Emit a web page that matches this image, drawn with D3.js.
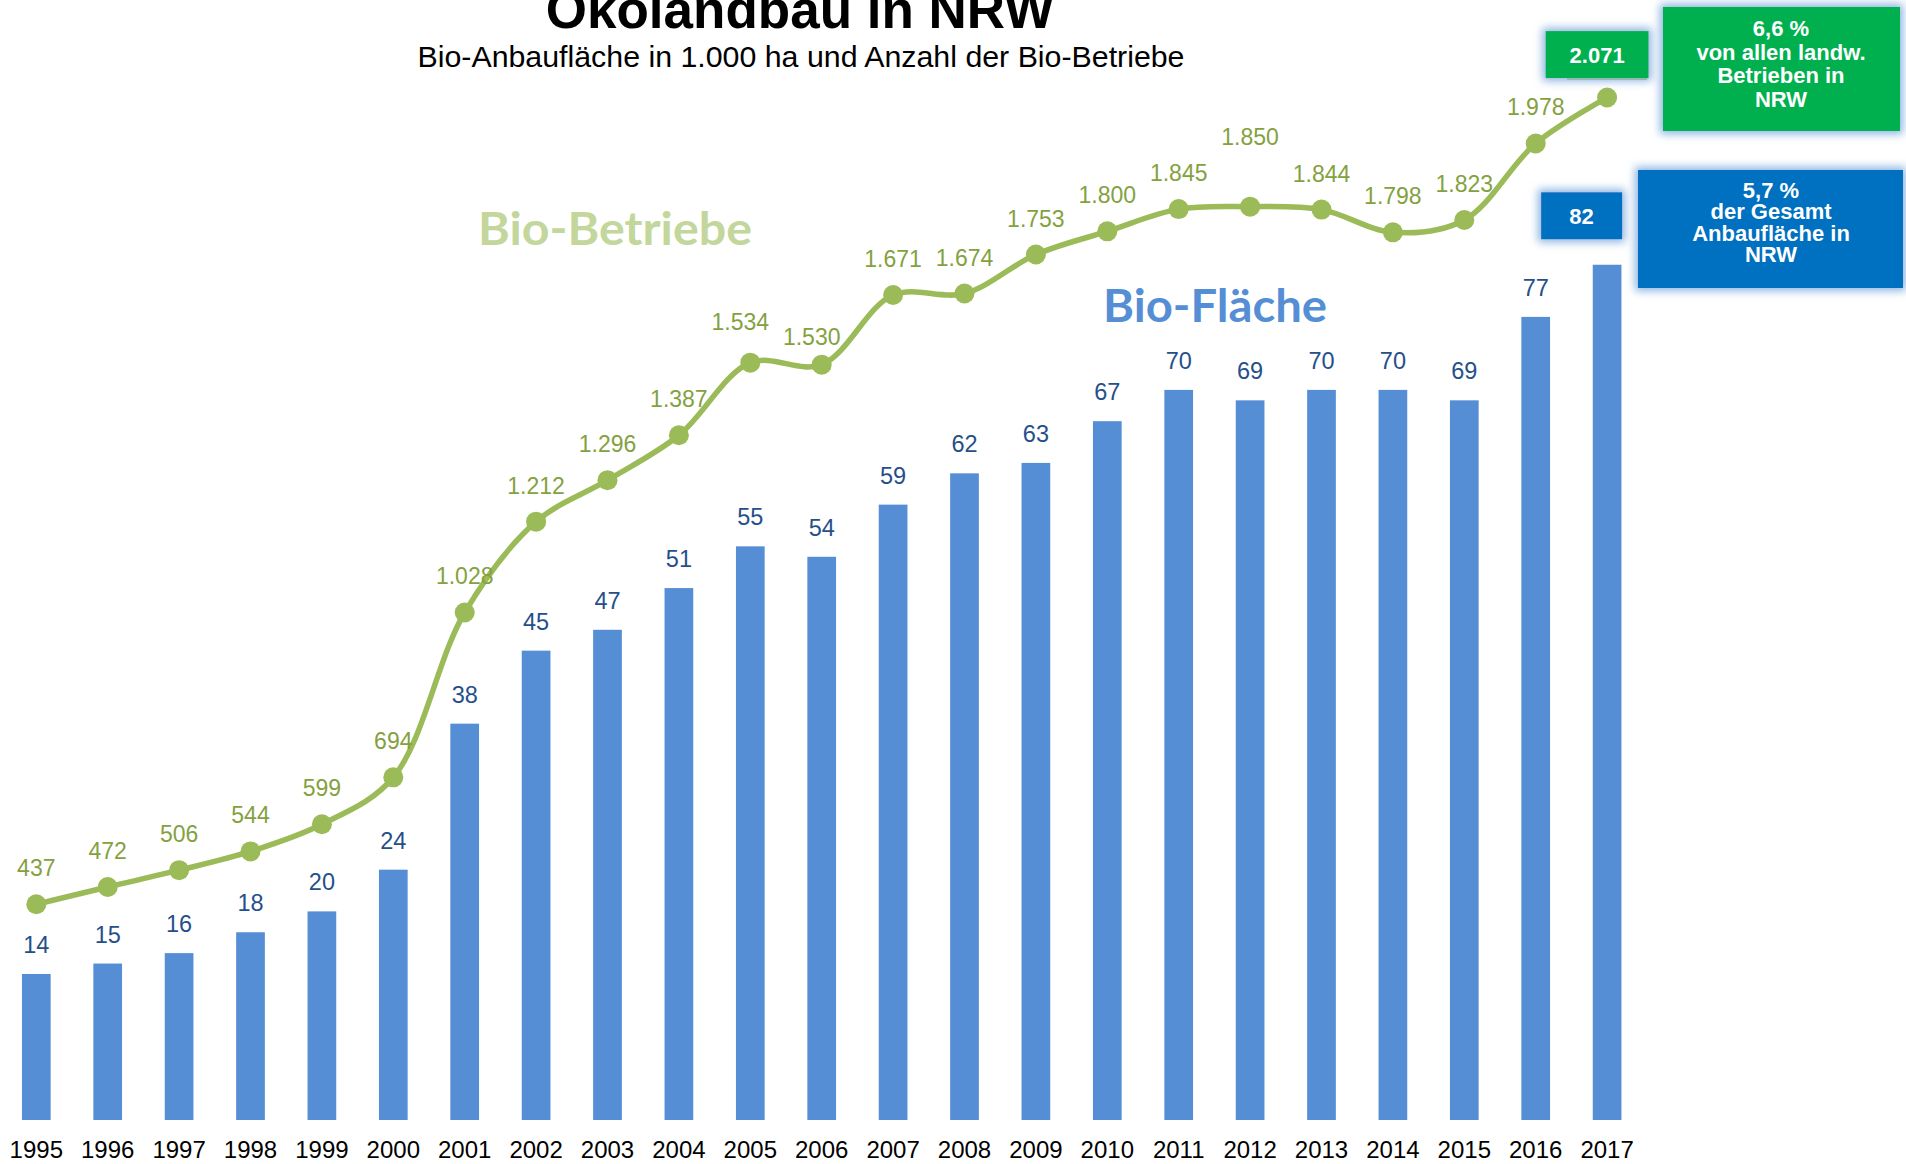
<!DOCTYPE html>
<html lang="de">
<head>
<meta charset="utf-8">
<title>Ökolandbau in NRW</title>
<script src="https://cdn.jsdelivr.net/npm/d3@7"></script>
<style>
  html, body { margin: 0; padding: 0; background: #ffffff; }
  svg { display: block; }
  text { font-family: "Liberation Sans", Arial, Helvetica, sans-serif; }
</style>
</head>
<body>
<svg id="chart" width="1906" height="1164"></svg>
<script>
// Jahre, Bio-Anbaufläche (1.000 ha) und Anzahl der Bio-Betriebe
const years = [1995, 1996, 1997, 1998, 1999, 2000, 2001, 2002, 2003, 2004, 2005, 2006,
               2007, 2008, 2009, 2010, 2011, 2012, 2013, 2014, 2015, 2016, 2017];
const areaValues = [14, 15, 16, 18, 20, 24, 38, 45, 47, 51, 55, 54,
                    59, 62, 63, 67, 70, 69, 70, 70, 69, 77, 82];
const farmValues = [437, 472, 506, 544, 599, 694, 1028, 1212, 1296, 1387, 1534, 1530,
                    1671, 1674, 1753, 1800, 1845, 1850, 1844, 1798, 1823, 1978, 2071];

const titleText = "Ökolandbau in NRW";
const subtitleText = "Bio-Anbaufläche in 1.000 ha und Anzahl der Bio-Betriebe";
const seriesNames = ["Bio-Betriebe", "Bio-Fläche"];
const farmShareLines = ["6,6 %", "von allen landw.", "Betrieben in", "NRW"];
const areaShareLines = ["5,7 %", "der Gesamt", "Anbaufläche in", "NRW"];

const data = years.map((y, i) => ({ year: y, area: areaValues[i], farms: farmValues[i] }));

const de = d3.formatLocale({ decimal: ",", thousands: ".", grouping: [3], currency: ["", " €"] });
const fmt = de.format(",d");

const svg = d3.select("#chart");
const baseY = 1120;

// Filter: hellblauer Schein um die Hinweisboxen
const defs = svg.append("defs");
const glow = defs.append("filter").attr("id", "glow")
  .attr("x", "-30%").attr("y", "-60%").attr("width", "160%").attr("height", "220%");
glow.append("feMorphology").attr("in", "SourceAlpha").attr("operator", "dilate").attr("radius", 3).attr("result", "d");
glow.append("feGaussianBlur").attr("in", "d").attr("stdDeviation", 4).attr("result", "b");
glow.append("feFlood").attr("flood-color", "#8DB4E2").attr("flood-opacity", 1);
glow.append("feComposite").attr("in2", "b").attr("operator", "in").attr("result", "g");
const gm = glow.append("feMerge");
gm.append("feMergeNode").attr("in", "g");
gm.append("feMergeNode").attr("in", "SourceGraphic");

// Skalen
const x = d3.scaleBand()
  .domain(years)
  .range([0.6, 1642.8])
  .paddingInner(0.598)
  .paddingOuter(0.299);
const cx = d => x(d) + x.bandwidth() / 2;

const yArea = d3.scaleLinear().domain([0, 100]).range([baseY, baseY - 1043]);
const yFarms = d3.scaleLinear().domain([0, 2100]).range([baseY, baseY - 2100 * 0.4937]);

// Titel (oben vom Rand angeschnitten)
svg.append("text")
  .attr("x", 800).attr("y", 28)
  .attr("text-anchor", "middle")
  .style("font-size", "53px").style("font-weight", "bold").attr("fill", "#000")
  .text(titleText);
svg.append("text")
  .attr("x", 801).attr("y", 67)
  .attr("text-anchor", "middle")
  .attr("textLength", 767).attr("lengthAdjust", "spacingAndGlyphs")
  .style("font-size", "30px").attr("fill", "#000")
  .text(subtitleText);

// Säulen: Bio-Fläche
svg.append("g").selectAll("rect")
  .data(data)
  .join("rect")
  .attr("x", d => x(d.year))
  .attr("y", d => yArea(d.area))
  .attr("width", x.bandwidth())
  .attr("height", d => baseY - yArea(d.area))
  .attr("fill", "#558ED5");

// Werte über den Säulen (letzter Wert in eigener Box)
const lastIdx = data.length - 1;
svg.append("g").selectAll("text")
  .data(data.slice(0, lastIdx))
  .join("text")
  .attr("x", d => cx(d.year))
  .attr("y", d => yArea(d.area) - 21)
  .attr("text-anchor", "middle")
  .style("font-size", "23.5px").attr("fill", "#264F8A")
  .text(d => fmt(d.area));

// Jahresachse
const xAxis = d3.axisBottom(x).tickSize(0).tickPadding(21);
const axisG = svg.append("g")
  .attr("transform", `translate(0,${baseY})`)
  .call(xAxis);
axisG.select(".domain").remove();
axisG.selectAll("text")
  .style("font-size", "24px")
  .style("font-family", "'Liberation Sans', Arial, sans-serif")
  .attr("fill", "#000");

// Linie: Bio-Betriebe
const line = d3.line()
  .x(d => cx(d.year))
  .y(d => yFarms(d.farms))
  .curve(d3.curveCatmullRom.alpha(0.5));
svg.append("path")
  .datum(data)
  .attr("d", line)
  .attr("fill", "none")
  .attr("stroke", "#9BBB59")
  .attr("stroke-width", 5.5)
  .attr("stroke-linejoin", "round");

svg.append("g").selectAll("circle")
  .data(data)
  .join("circle")
  .attr("cx", d => cx(d.year))
  .attr("cy", d => yFarms(d.farms))
  .attr("r", 10)
  .attr("fill", "#9BBB59");

// Beschriftung der Linienpunkte, einzelne Etiketten leicht versetzt
const labelNudge = { 2005: [-10, -5], 2006: [-10, 8], 2012: [0, -34] };
svg.append("g").selectAll("text")
  .data(data.slice(0, lastIdx))
  .join("text")
  .attr("x", d => cx(d.year) + (labelNudge[d.year] ? labelNudge[d.year][0] : 0))
  .attr("y", d => yFarms(d.farms) - 28 + (labelNudge[d.year] ? labelNudge[d.year][1] : 0))
  .attr("text-anchor", "middle")
  .style("font-size", "23px").attr("fill", "#84A13F")
  .text(d => fmt(d.farms));

// Reihenbezeichnungen im Diagramm
svg.append("text")
  .attr("x", 478).attr("y", 245)
  .attr("textLength", 274).attr("lengthAdjust", "spacingAndGlyphs")
  .style("font-family", "Lato, 'Open Sans', sans-serif")
  .style("font-size", "45px").style("font-weight", "bold")
  .attr("fill", "#C3D69B")
  .text(seriesNames[0]);
svg.append("text")
  .attr("x", 1103).attr("y", 322)
  .attr("textLength", 224).attr("lengthAdjust", "spacingAndGlyphs")
  .style("font-family", "Lato, 'Open Sans', sans-serif")
  .style("font-size", "46px").style("font-weight", "bold")
  .attr("fill", "#558ED5")
  .text(seriesNames[1]);

// Boxen mit den Endwerten 2017
const last = data[lastIdx];
const farmPt = { x: cx(last.year), y: yFarms(last.farms) };
const areaPt = { x: cx(last.year), y: yArea(last.area) };

function valueBox(g, cxp, cyp, w, h, fill, label) {
  g.append("rect")
    .attr("x", cxp - w / 2).attr("y", cyp - h / 2)
    .attr("width", w).attr("height", h)
    .attr("fill", fill).attr("filter", "url(#glow)");
  g.append("text")
    .attr("x", cxp).attr("y", cyp + 8)
    .attr("text-anchor", "middle")
    .style("font-size", "22px").style("font-weight", "bold")
    .attr("fill", "#fff")
    .text(label);
}

const boxes = svg.append("g");
// Betriebe 2017
const fbx = farmPt.x - 10, fby = farmPt.y - 43;
boxes.append("rect")
  .attr("x", fbx - 30).attr("y", fby + 22.5)
  .attr("width", 80).attr("height", 3)
  .attr("fill", "#A9C456");
valueBox(boxes, fbx, fby, 103, 47, "#00B050", fmt(last.farms));
// Fläche 2017
valueBox(boxes, areaPt.x - 25.5, areaPt.y - 49, 81, 47, "#0070C0", fmt(last.area));

// Anteilsboxen rechts
function shareBox(g, x0, y0, w, h, fill, lines, cxText, firstBaseline, lh) {
  g.append("rect")
    .attr("x", x0).attr("y", y0).attr("width", w).attr("height", h)
    .attr("fill", fill).attr("filter", "url(#glow)");
  g.append("g").selectAll("text")
    .data(lines)
    .join("text")
    .attr("x", cxText)
    .attr("y", (d, i) => firstBaseline + i * lh)
    .attr("text-anchor", "middle")
    .style("font-size", "22px").style("font-weight", "bold")
    .attr("fill", "#fff")
    .text(d => d);
}
shareBox(boxes, 1663, 7, 237, 124, "#00B050", farmShareLines, 1781, 36, 23.7);
shareBox(boxes, 1638, 170, 265, 118, "#0070C0", areaShareLines, 1771, 198, 21.3);
</script>
</body>
</html>
